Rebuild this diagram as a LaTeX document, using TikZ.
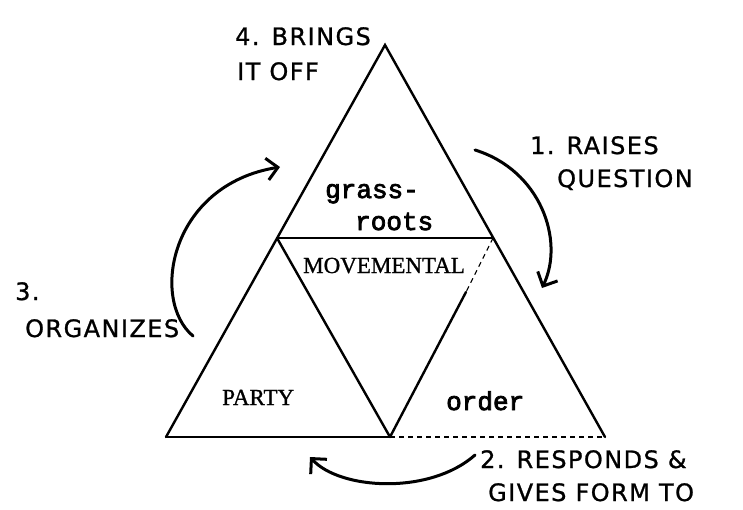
\documentclass[tikz,border=0pt]{standalone}
\usepackage{fontspec}
\usepackage{tikz}
\usetikzlibrary{arrows.meta, calc}
\newfontfamily\handfont[LetterSpace=6, FakeBold=1]{DejaVu Sans}
\newfontfamily\typefont[FakeBold=3]{Liberation Mono}
\newfontfamily\printfont[FakeBold=1]{Liberation Serif}
\tikzset{
  edge/.style={line width=2.4pt, line cap=round},
  faint/.style={line width=1.1pt, dash pattern=on 5pt off 4pt},
  cycle arrow/.style={line width=3pt, line cap=round, -{Straight Barb[length=11pt, width=22pt, line width=3pt]}},
  hand/.style={anchor=base west, inner sep=0pt, font=\handfont\fontsize{24}{24}\selectfont},
  typed/.style={anchor=base west, inner sep=0pt, font=\typefont\fontsize{26}{26}\selectfont},
  printed/.style={anchor=base west, inner sep=0pt, font=\printfont\fontsize{23}{23}\selectfont}
}
\begin{document}
\begin{tikzpicture}[x=1pt, y=-1pt]
  \useasboundingbox (0,0) rectangle (743,509);
  % corners of the big triangle
  \coordinate (apex) at (385,45);
  \coordinate (bl) at (166,437);
  \coordinate (br) at (605,437);
  \coordinate (ml) at (277,238);
  \coordinate (mr) at (493,238);
  \coordinate (mb) at (390,437);
  \coordinate (mr dash) at (466,292);
  % outer triangle
  \draw[edge] (bl) -- (apex) -- (br);
  \draw[edge] (bl) -- (mb);
  \draw[faint] (mb) -- (br);
  % inner triangle
  \draw[edge] (ml) -- (mr);
  \draw[edge] (ml) -- (mb);
  \draw[faint] (mr) -- (mr dash);
  \draw[edge] (mr dash) -- (mb);
  % texts in the triangle
  \node[typed] (grass) at (325,198) {grass-};
  \node[typed] (roots) at (355,230) {roots};
  \node[printed] (movemental) at (303,273) {MOVEMENTAL};
  \node[printed] (party) at (222,405) {PARTY};
  \node[typed] (order) at (446,410) {order};
  % steps round the triangle
  \node[hand] (brings) at (235,45) {4. BRINGS};
  \node[hand] (itoff) at (237,80) {IT OFF};
  \node[hand] (raises) at (530,154) {1. RAISES};
  \node[hand] (question) at (557,187) {QUESTION};
  \node[hand] (three) at (15,300) {3.};
  \node[hand] (organizes) at (25,337) {ORGANIZES};
  \node[hand] (responds) at (480,468) {2. RESPONDS \&};
  \node[hand] (givesform) at (488,501) {GIVES FORM TO};
  % arrows
  \coordinate (a1) at (475,150);
  \coordinate (b1) at (542,288);
  \coordinate (a2) at (475,455);
  \coordinate (b2) at (310,457);
  \coordinate (a3) at (193,336);
  \coordinate (b3) at (280,167);
  \draw[cycle arrow] (a1) .. controls (540,170) and (565,240) .. (b1);
  \draw[cycle arrow] (a2) .. controls (430,495) and (340,490) .. (b2);
  \draw[cycle arrow] (a3) .. controls (150,300) and (170,185) .. (b3);
\end{tikzpicture}
\end{document}
